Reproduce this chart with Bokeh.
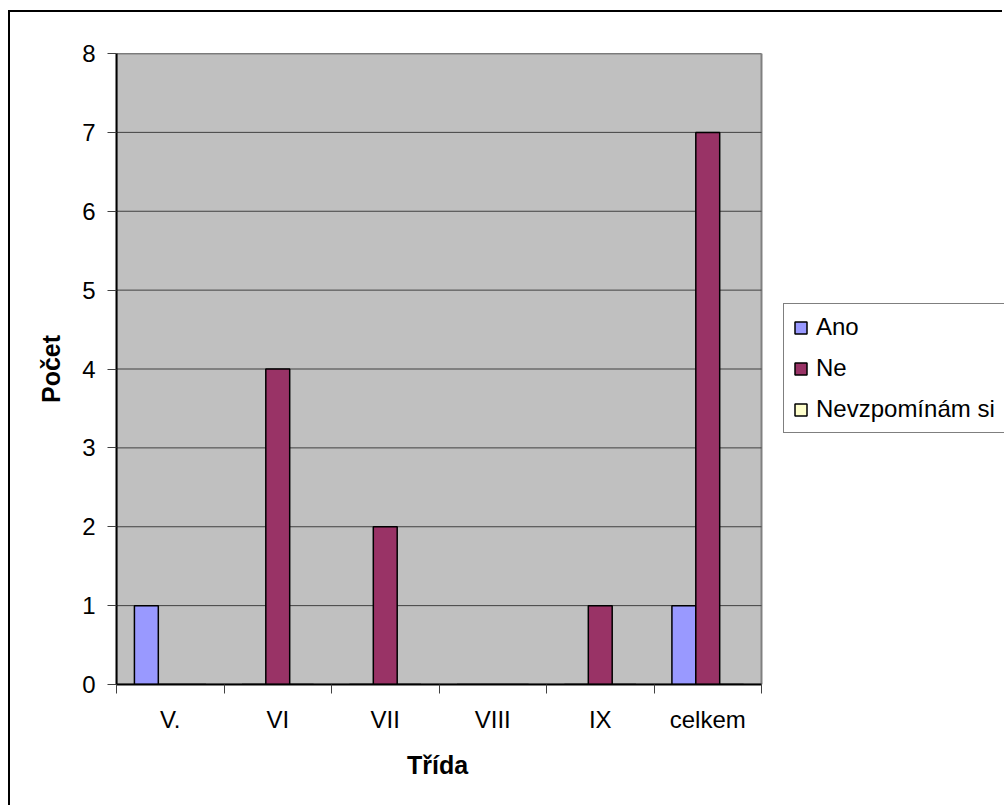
from bokeh.plotting import figure
from bokeh.models import Range1d, FixedTicker, Legend, LegendItem, ColumnDataSource, Title
from bokeh.transform import dodge
from bokeh.embed import file_html
from bokeh.resources import INLINE

categories = ["V.", "VI", "VII", "VIII", "IX", "celkem"]
series_names = ["Ano", "Ne", "Nevzpomínám si"]
ano = [1, 0, 0, 0, 0, 1]
ne = [0, 4, 2, 0, 1, 7]
nevzpominam = [0, 0, 0, 0, 0, 0]
y_ticks = [0, 1, 2, 3, 4, 5, 6, 7, 8]
colors = ["#9999FF", "#993366", "#FFFFCC"]

FONT = "Liberation Sans"
n = len(categories)
x_centers = [i + 0.5 for i in range(n)]
source = ColumnDataSource(dict(x=x_centers, ano=ano, ne=ne, nev=nevzpominam))

W, H = 994, 795
LEFT, TOP, BOTTOM = 106, 41, 123
PLOT_PX = 645  # pixel width of the category area; frame continues to the right for the legend
frame_px = W - LEFT
x_end = n * frame_px / PLOT_PX

p = figure(width=W, height=H,
           x_range=Range1d(0, x_end), y_range=Range1d(y_ticks[0], y_ticks[-1]),
           min_border_left=LEFT, min_border_right=0, min_border_top=TOP, min_border_bottom=BOTTOM,
           output_backend="svg", toolbar_location=None,
           background_fill_color="white", border_fill_color="white",
           outline_line_color=None)
p.styles = {"border-left": "2px solid black", "border-top": "2px solid black",
            "margin-top": "10px", "margin-left": "8px"}

# plot area background
p.quad(left=0, right=n, bottom=y_ticks[0], top=y_ticks[-1],
       fill_color="#C0C0C0", line_color="#808080", line_width=2)
# horizontal gridlines
p.segment(x0=[0] * len(y_ticks), x1=[n] * len(y_ticks), y0=y_ticks, y1=y_ticks,
          line_color="#404040", line_width=1)

w = 1 / 4.5
renderers = []
for off, field, col in zip([-w, 0, w], ["ano", "ne", "nev"], colors):
    r = p.vbar(x=dodge("x", off), top=field, width=w, source=source,
               fill_color=col, line_color="black", line_width=1.5)
    renderers.append(r)

# axes
p.xaxis.bounds = (0, n)
p.xaxis.ticker = FixedTicker(ticks=x_centers, minor_ticks=list(range(n + 1)))
p.xaxis.major_label_overrides = {xc: c for xc, c in zip(x_centers, categories)}
p.xaxis.major_tick_out = 0
p.xaxis.major_tick_in = 0
p.xaxis.minor_tick_out = 9
p.xaxis.minor_tick_in = 0
p.xaxis.minor_tick_line_color = "#404040"

p.yaxis.ticker = FixedTicker(ticks=y_ticks, minor_ticks=[])
p.yaxis.major_tick_out = 9
p.yaxis.major_tick_in = 0
p.yaxis.major_tick_line_color = "#404040"
p.yaxis.axis_label = "Počet"

for ax in (p.xaxis[0], p.yaxis[0]):
    ax.axis_line_color = "black"
    ax.axis_line_width = 2
    ax.major_label_text_font = FONT
    ax.major_label_text_font_size = "24px"
    ax.major_label_text_color = "black"
    ax.major_label_standoff = 12
    ax.axis_label_text_font = FONT
    ax.axis_label_text_font_size = "25px"
    ax.axis_label_text_font_style = "bold"
    ax.axis_label_text_color = "black"
p.yaxis.axis_label_standoff = 14

# x-axis title centred under the category area
xtitle = Title(text="Třída", align="left", offset=PLOT_PX / 2 - 32,
               text_font=FONT, text_font_size="25px", text_font_style="bold",
               text_color="black", standoff=27)
p.add_layout(xtitle, "below")

p.xgrid.visible = False
p.ygrid.visible = False

legend = Legend(items=[LegendItem(label=nm, renderers=[r]) for nm, r in zip(series_names, renderers)],
                location=(PLOT_PX + 22, 251),
                label_text_font=FONT, label_text_font_size="24px", label_text_color="black",
                glyph_width=15, glyph_height=15, label_standoff=8,
                padding=9, spacing=13, margin=0,
                border_line_color="black", border_line_width=1,
                background_fill_color="white", background_fill_alpha=1)
p.add_layout(legend)

open("out.html", "w").write(file_html(p, INLINE))
